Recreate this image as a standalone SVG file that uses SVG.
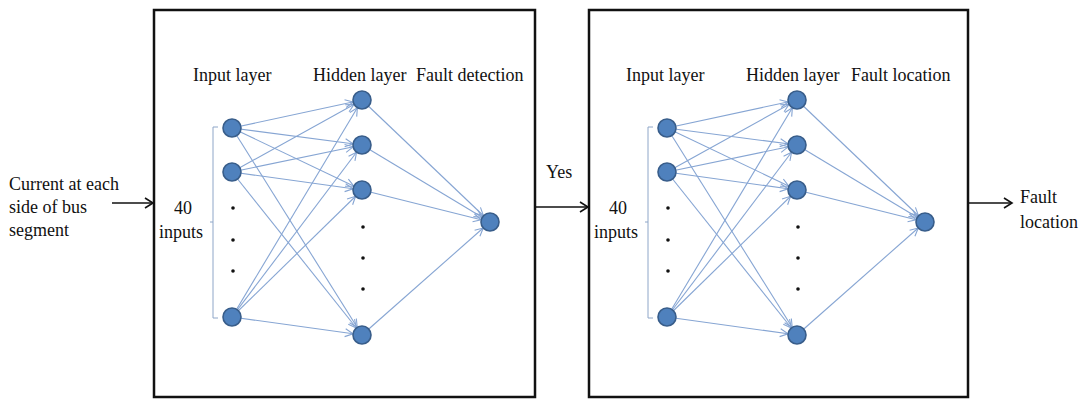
<svg xmlns="http://www.w3.org/2000/svg" width="1087" height="399" viewBox="0 0 1087 399">
<style>
text{font-family:"Liberation Serif","Times New Roman",serif;font-size:18px;fill:#111}
.box{fill:#fff;stroke:#111;stroke-width:2.5}
.n{fill:#4f81bd;stroke:#385d8a;stroke-width:1.6}
.e{stroke:#86a5d3;stroke-width:1.1;fill:none;marker-end:url(#ah)}
.br{stroke:#8ea6c8;stroke-width:1;fill:none}
.ar{stroke:#111;stroke-width:1.6;fill:none;marker-end:url(#bk)}
.dot{fill:#111}
</style>
<defs>
<marker id="ah" markerUnits="userSpaceOnUse" markerWidth="20" markerHeight="10" refX="17" refY="4" orient="auto" overflow="visible">
<path d="M0,0 L8,4 L0,8" fill="none" stroke="#86a5d3" stroke-width="1.1"/>
</marker>
<marker id="bk" markerUnits="userSpaceOnUse" markerWidth="12" markerHeight="12" refX="9" refY="5" orient="auto" overflow="visible">
<path d="M1,0 L9,5 L1,10" fill="none" stroke="#111" stroke-width="1.6"/>
</marker>
</defs>
<rect width="1087" height="399" fill="#fff"/>
<rect class="box" x="154" y="10" width="381" height="387"/>
<rect class="box" x="589" y="10" width="379" height="387"/>

<g id="connectors">
<path class="ar" d="M112,203 H153"/>
<path class="ar" d="M536,207 H588"/>
<path class="ar" d="M969,203 H1012"/>
<path class="e" d="M232,128 L362,100"/><path class="e" d="M232,128 L362,145"/><path class="e" d="M232,128 L362,190"/><path class="e" d="M232,128 L362,335"/>
<path class="e" d="M232,172 L362,100"/><path class="e" d="M232,172 L362,145"/><path class="e" d="M232,172 L362,190"/><path class="e" d="M232,172 L362,335"/>
<path class="e" d="M232,317 L362,100"/><path class="e" d="M232,317 L362,145"/><path class="e" d="M232,317 L362,190"/><path class="e" d="M232,317 L362,335"/>
<path class="e" d="M362,100 L490,222"/><path class="e" d="M362,145 L490,222"/><path class="e" d="M362,190 L490,222"/><path class="e" d="M362,335 L490,222"/>
<path class="e" d="M667,128 L797,100"/><path class="e" d="M667,128 L797,145"/><path class="e" d="M667,128 L797,190"/><path class="e" d="M667,128 L797,335"/>
<path class="e" d="M667,172 L797,100"/><path class="e" d="M667,172 L797,145"/><path class="e" d="M667,172 L797,190"/><path class="e" d="M667,172 L797,335"/>
<path class="e" d="M667,317 L797,100"/><path class="e" d="M667,317 L797,145"/><path class="e" d="M667,317 L797,190"/><path class="e" d="M667,317 L797,335"/>
<path class="e" d="M797,100 L925,222"/><path class="e" d="M797,145 L925,222"/><path class="e" d="M797,190 L925,222"/><path class="e" d="M797,335 L925,222"/>
</g>

<g id="brackets">
<path class="br" d="M218,127 H213 V318 H218 M213,222 H210"/>
<path class="br" d="M653,127 H648 V318 H653 M648,222 H645"/>
</g>

<g id="net1">
<g id="n1-in1"><circle class="n" cx="232" cy="128" r="9"/></g>
<g id="n1-in2"><circle class="n" cx="232" cy="172" r="9"/></g>
<g id="n1-in3"><circle class="n" cx="232" cy="317" r="9"/></g>
<g id="n1-h1"><circle class="n" cx="362" cy="100" r="9"/></g>
<g id="n1-h2"><circle class="n" cx="362" cy="145" r="9"/></g>
<g id="n1-h3"><circle class="n" cx="362" cy="190" r="9"/></g>
<g id="n1-h4"><circle class="n" cx="362" cy="335" r="9"/></g>
<g id="n1-out"><circle class="n" cx="490" cy="222" r="9"/></g>
<circle class="dot" cx="233" cy="208" r="1.8"/><circle class="dot" cx="233" cy="240" r="1.8"/><circle class="dot" cx="233" cy="271" r="1.8"/>
<circle class="dot" cx="363" cy="227" r="1.8"/><circle class="dot" cx="363" cy="258" r="1.8"/><circle class="dot" cx="363" cy="289" r="1.8"/>
</g>

<g id="net2">
<g id="n2-in1"><circle class="n" cx="667" cy="128" r="9"/></g>
<g id="n2-in2"><circle class="n" cx="667" cy="172" r="9"/></g>
<g id="n2-in3"><circle class="n" cx="667" cy="317" r="9"/></g>
<g id="n2-h1"><circle class="n" cx="797" cy="100" r="9"/></g>
<g id="n2-h2"><circle class="n" cx="797" cy="145" r="9"/></g>
<g id="n2-h3"><circle class="n" cx="797" cy="190" r="9"/></g>
<g id="n2-h4"><circle class="n" cx="797" cy="335" r="9"/></g>
<g id="n2-out"><circle class="n" cx="925" cy="222" r="9"/></g>
<circle class="dot" cx="668" cy="208" r="1.8"/><circle class="dot" cx="668" cy="240" r="1.8"/><circle class="dot" cx="668" cy="271" r="1.8"/>
<circle class="dot" cx="798" cy="227" r="1.8"/><circle class="dot" cx="798" cy="258" r="1.8"/><circle class="dot" cx="798" cy="289" r="1.8"/>
</g>

<g id="labels">
<text x="193" y="81">Input layer</text>
<text x="313" y="81">Hidden layer</text>
<text x="416" y="81">Fault detection</text>
<text x="626" y="81">Input layer</text>
<text x="746" y="81">Hidden layer</text>
<text x="851" y="81">Fault location</text>
<text x="183" y="214" text-anchor="middle">40</text>
<text x="181" y="238" text-anchor="middle">inputs</text>
<text x="618" y="214" text-anchor="middle">40</text>
<text x="616" y="238" text-anchor="middle">inputs</text>
<text x="9" y="190">Current at each</text>
<text x="9" y="213">side of bus</text>
<text x="9" y="236">segment</text>
<text x="546" y="178">Yes</text>
<text x="1020" y="203">Fault</text>
<text x="1020" y="228">location</text>
</g>
</svg>
